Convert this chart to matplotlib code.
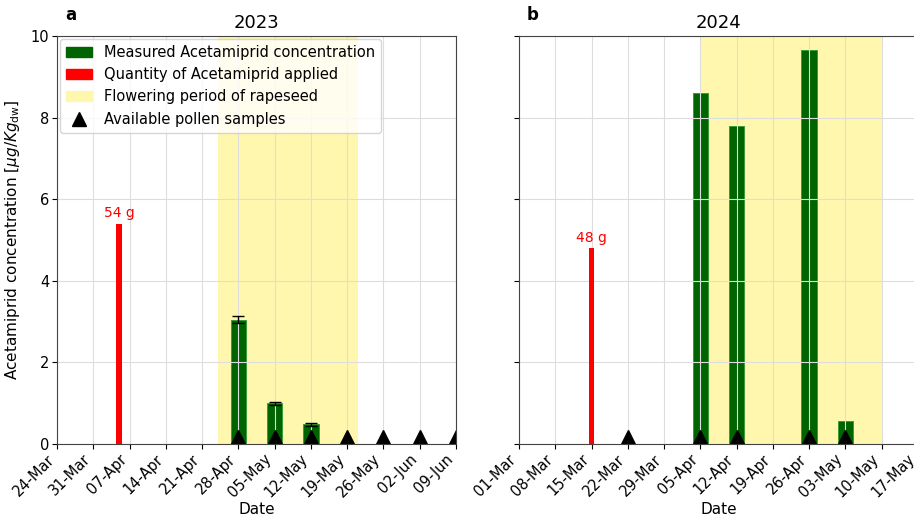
import numpy as np
import pandas as pd
import matplotlib
matplotlib.use("Agg")
import matplotlib.pyplot as plt
import matplotlib.dates as mdates
from matplotlib.patches import Patch
from matplotlib.lines import Line2D

# 2023 season
conc_dates_23 = ["2023-04-28", "2023-05-05", "2023-05-12"]
conc_23 = [3.05, 1.0, 0.48]
conc_err_23 = [0.08, 0.04, 0.04]
appl_dates_23 = ["2023-04-05"]
appl_23 = [5.4]
appl_labels_23 = ["54 g"]
pollen_23 = ["2023-04-28", "2023-05-05", "2023-05-12", "2023-05-19",
             "2023-05-26", "2023-06-02", "2023-06-09"]
flower_23 = ["2023-04-24", "2023-05-21"]
xlim_23 = ["2023-03-24", "2023-06-09"]

# 2024 season
conc_dates_24 = ["2024-04-05", "2024-04-12", "2024-04-26", "2024-05-03"]
conc_24 = [8.6, 7.8, 9.65, 0.55]
appl_dates_24 = ["2024-03-15"]
appl_24 = [4.8]
appl_labels_24 = ["48 g"]
pollen_24 = ["2024-03-22", "2024-04-05", "2024-04-12", "2024-04-26", "2024-05-03"]
flower_24 = ["2024-04-05", "2024-05-10"]
xlim_24 = ["2024-03-01", "2024-05-17"]

d = lambda l: mdates.date2num(pd.to_datetime(l))

FLOWER = "#fff7ae"

fig = plt.figure(figsize=(9.14, 5.15), dpi=100)
ax1 = fig.add_axes([0.0624, 0.138, 0.4365, 0.792])
ax2 = fig.add_axes([0.5678, 0.138, 0.4365, 0.792], sharey=ax1)


def panel(ax, cdates, conc, err, adates, appl, alabels, pollen, flower, xlim, title, letter):
    fl = d(flower)
    ax.axvspan(fl[0], fl[1], color=FLOWER, lw=0)
    ax.bar(d(cdates), conc, width=3, color="darkgreen", edgecolor="#3a9a3a", lw=0.7,
           yerr=err, capsize=4, error_kw=dict(ecolor="black", lw=1))
    ax.bar(d(adates), appl, width=1.1, color="red", zorder=2.5)
    for x, v, t in zip(d(adates), appl, alabels):
        ax.text(x, v + 0.08, t, color="red", ha="center", va="bottom", fontsize=10)
    ax.plot(d(pollen), np.full(len(pollen), 0.17), "^", color="black", ms=10, ls="none")
    xl = d(xlim)
    ax.set_xlim(xl[0], xl[1])
    ax.set_ylim(0, 10)
    ax.set_xticks(np.arange(xl[0], xl[1] + 1, 7))
    ax.xaxis.set_major_formatter(mdates.DateFormatter("%d-%b"))
    for lab in ax.get_xticklabels():
        lab.set_rotation(45)
        lab.set_ha("right")
    ax.tick_params(labelsize=10.5, pad=2)
    ax.grid(True, color="#dddddd", lw=0.8)
    ax.set_xlabel("Date", fontsize=11, labelpad=1)
    ax.set_title(title, fontsize=13)
    ax.text(0.02, 1.03, letter, transform=ax.transAxes, fontweight="bold", fontsize=12,
            ha="left", va="bottom")
    for s in ax.spines.values():
        s.set_color("#444444")


panel(ax1, conc_dates_23, conc_23, conc_err_23, appl_dates_23, appl_23, appl_labels_23,
      pollen_23, flower_23, xlim_23, "2023", "a")
panel(ax2, conc_dates_24, conc_24, None, appl_dates_24, appl_24, appl_labels_24,
      pollen_24, flower_24, xlim_24, "2024", "b")

ax1.set_yticks([0, 2, 4, 6, 8, 10])
ax1.set_ylabel(r"Acetamiprid concentration [$\mu g/Kg_{\rm dw}$]", fontsize=11, labelpad=6)
ax2.tick_params(labelleft=False)

handles = [Patch(color="darkgreen", label="Measured Acetamiprid concentration"),
           Patch(color="red", label="Quantity of Acetamiprid applied"),
           Patch(color=FLOWER, label="Flowering period of rapeseed"),
           Line2D([], [], marker="^", color="black", ls="none", ms=10,
                  label="Available pollen samples")]
ax1.legend(handles=handles, loc="upper left", fontsize=10.5, borderaxespad=0.2,
           handlelength=1.8)

fig.savefig("out.png", dpi=100)
